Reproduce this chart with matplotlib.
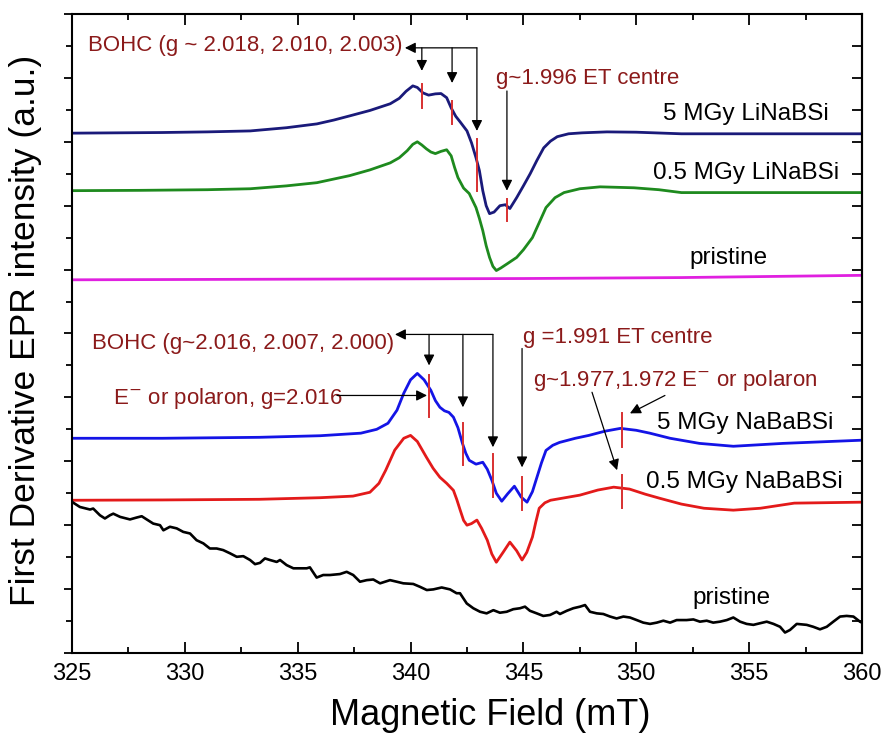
import numpy as np
import matplotlib
matplotlib.use("Agg")
import matplotlib.pyplot as plt
from matplotlib.ticker import MultipleLocator, NullFormatter

plt.rcParams['font.family'] = ['Liberation Sans', 'DejaVu Sans']

# --- data (field in mT, intensity in a.u. incl. offsets) ---
x_li5 = [325.0, 327.0, 329.0, 331.0, 332.9, 334.5, 335.85, 336.6, 337.3, 338.2, 339.1, 339.5,
         339.8, 340.1, 340.3, 340.55, 340.8, 341.1, 341.35, 341.6, 341.8, 342.0, 342.2, 342.5,
         342.7, 342.9, 343.05, 343.2, 343.35, 343.5, 343.7, 343.96, 344.2, 344.4, 344.7, 345.0,
         345.3, 345.6, 345.9, 346.2, 346.5, 347.0, 347.6, 348.7, 350.0, 352.0, 356.0, 360.0]
y_li5 = [16.27, 16.28, 16.29, 16.31, 16.34, 16.44, 16.56, 16.68, 16.81, 16.98, 17.19, 17.36,
         17.58, 17.75, 17.70, 17.53, 17.46, 17.50, 17.51, 17.38, 17.06, 16.80, 16.62, 16.34,
         15.97, 15.50, 15.10, 14.47, 14.00, 13.75, 13.80, 14.00, 14.03, 13.91, 14.25, 14.62,
         15.00, 15.42, 15.81, 16.02, 16.16, 16.25, 16.28, 16.31, 16.30, 16.25, 16.25, 16.25]

x_li05 = [325.0, 328.0, 331.0, 332.9, 334.5, 335.85, 337.3, 338.2, 339.1, 339.5, 339.85, 340.1,
          340.3, 340.5, 340.7, 340.9, 341.1, 341.35, 341.6, 341.8, 341.95, 342.1, 342.35, 342.6,
          342.9, 343.05, 343.2, 343.35, 343.5, 343.65, 343.8, 344.0, 344.3, 344.7, 345.0, 345.4,
          345.7, 346.0, 346.4, 346.8, 347.5, 348.4, 349.9, 351.0, 352.0, 356.0, 360.0]
y_li05 = [14.47, 14.48, 14.50, 14.53, 14.62, 14.72, 14.94, 15.12, 15.34, 15.50, 15.72, 15.92,
          16.00, 15.90, 15.78, 15.68, 15.63, 15.70, 15.75, 15.56, 15.20, 14.88, 14.55, 14.38,
          13.94, 13.60, 13.22, 12.75, 12.38, 12.10, 11.97, 12.05, 12.19, 12.38, 12.62, 13.00,
          13.47, 13.94, 14.25, 14.41, 14.53, 14.59, 14.56, 14.50, 14.41, 14.41, 14.41]

x_li0 = [325.0, 335.0, 345.0, 352.0, 360.0]
y_li0 = [11.68, 11.70, 11.72, 11.75, 11.82]

x_na5 = [325.0, 329.0, 333.3, 336.0, 337.8, 338.5, 339.0, 339.4, 339.7, 340.0, 340.3, 340.6,
         340.9, 341.1, 341.3, 341.5, 341.7, 341.9, 342.1, 342.3, 342.45, 342.6, 342.9, 343.2,
         343.4, 343.6, 343.8, 344.04, 344.3, 344.6, 344.9, 345.16, 345.4, 345.6, 345.8, 346.0,
         346.3, 346.6, 347.3, 347.9, 348.6, 349.3, 350.0, 350.6, 351.5, 352.8, 354.3, 356.5, 360.0]
y_na5 = [6.72, 6.72, 6.75, 6.80, 6.88, 7.00, 7.19, 7.60, 8.13, 8.55, 8.75, 8.55,
         8.22, 7.90, 7.69, 7.58, 7.53, 7.38, 7.05, 6.56, 6.25, 6.03, 5.91, 5.97,
         5.75, 5.41, 5.00, 4.75, 4.98, 5.22, 4.88, 4.72, 5.05, 5.50, 5.95, 6.34,
         6.50, 6.59, 6.72, 6.81, 6.94, 7.03, 6.97, 6.88, 6.72, 6.56, 6.47, 6.56, 6.66]

x_na05 = [325.0, 329.0, 333.3, 336.0, 337.45, 338.2, 338.6, 338.9, 339.3, 339.7, 340.0, 340.3,
          340.7, 341.0, 341.3, 341.6, 341.9, 342.05, 342.2, 342.35, 342.5, 342.7, 342.94, 343.15,
          343.4, 343.6, 343.8, 344.1, 344.4, 344.7, 344.94, 345.15, 345.4, 345.55, 345.7, 345.95,
          346.2, 347.5, 348.3, 349.0, 349.7, 350.4, 351.05, 352.0, 353.0, 354.3, 355.5, 357.0, 360.0]
y_na05 = [4.78, 4.79, 4.81, 4.86, 4.91, 5.03, 5.31, 5.72, 6.35, 6.72, 6.81, 6.62,
          6.13, 5.78, 5.50, 5.31, 5.09, 4.80, 4.47, 4.15, 4.00, 4.05, 4.16, 3.90,
          3.53, 3.10, 2.84, 3.15, 3.47, 3.20, 2.91, 3.15, 3.63, 4.10, 4.53, 4.70,
          4.78, 4.94, 5.10, 5.19, 5.13, 4.97, 4.84, 4.66, 4.53, 4.47, 4.53, 4.69, 4.72]

x_na0 = [325.0, 325.35, 325.8, 325.94, 326.24, 326.46, 326.68, 326.83, 327.13, 327.57, 327.87,
         328.09, 328.31, 328.6, 328.9, 329.05, 329.34, 329.64, 329.93, 330.23, 330.52, 330.82,
         331.11, 331.41, 331.7, 332.0, 332.3, 332.59, 332.89, 333.11, 333.33, 333.55, 333.77,
         334.07, 334.22, 334.51, 334.81, 335.4, 335.54, 335.84, 336.13, 336.43, 336.87, 337.17,
         337.46, 337.76, 338.06, 338.35, 338.65, 339.09, 339.39, 339.68, 340.12, 340.42, 340.72,
         341.01, 341.38, 341.75, 342.04, 342.19, 342.49, 342.78, 343.08, 343.37, 343.67, 343.96,
         344.26, 344.55, 344.85, 345.07, 345.29, 345.59, 345.88, 346.18, 346.47, 346.62, 346.92,
         347.21, 347.51, 347.73, 347.95, 348.25, 348.54, 348.84, 349.13, 349.43, 349.72, 350.02,
         350.31, 350.61, 350.91, 351.2, 351.5, 351.79, 352.23, 352.53, 352.82, 353.12, 353.41,
         353.71, 354.01, 354.3, 354.6, 354.89, 355.19, 355.48, 355.78, 356.08, 356.37, 356.59,
         356.81, 357.11, 357.55, 357.84, 358.14, 358.44, 358.73, 359.03, 359.32, 359.62, 359.91,
         360.0]
y_na0 = [4.73, 4.57, 4.49, 4.52, 4.31, 4.21, 4.31, 4.36, 4.26, 4.18, 4.24,
         4.28, 4.18, 4.05, 4.00, 3.84, 3.95, 3.90, 3.79, 3.74, 3.53, 3.43,
         3.27, 3.27, 3.22, 3.12, 3.01, 3.03, 2.91, 2.78, 2.82, 2.96, 2.91,
         2.85, 2.91, 2.75, 2.65, 2.65, 2.68, 2.36, 2.44, 2.44, 2.47, 2.54,
         2.44, 2.23, 2.28, 2.30, 2.18, 2.28, 2.23, 2.18, 2.16, 2.07, 1.97,
         1.99, 2.05, 1.99, 1.87, 1.87, 1.55, 1.40, 1.29, 1.24, 1.34, 1.26,
         1.29, 1.37, 1.40, 1.45, 1.32, 1.24, 1.16, 1.19, 1.29, 1.22, 1.32,
         1.40, 1.45, 1.50, 1.29, 1.24, 1.22, 1.14, 1.08, 1.14, 1.11, 1.03,
         0.95, 0.91, 0.95, 1.01, 0.95, 1.03, 1.03, 1.05, 0.98, 1.01, 0.95,
         0.98, 1.03, 1.11, 0.98, 0.91, 0.88, 0.93, 0.98, 0.91, 0.82, 0.64,
         0.72, 0.91, 0.88, 0.82, 0.74, 0.82, 0.98, 1.14, 1.16, 1.14, 0.98,
         0.95]

# red marker lines: field, lower and upper end
marks_x = [340.5, 341.84, 342.94, 344.27, 340.82, 342.32, 343.65, 344.94, 349.37, 349.37]
marks_lo = [17.06, 16.56, 14.47, 13.53, 7.38, 5.88, 4.88, 4.47, 6.44, 4.53]
marks_hi = [17.81, 17.28, 16.09, 14.22, 8.69, 7.19, 6.22, 5.50, 7.50, 5.56]

txt_red = '#8b1a1a'
fig = plt.figure(figsize=(8.82, 7.4), dpi=100)
ax = fig.add_axes([0.0816, 0.1176, 0.8957, 0.8635])

ax.plot(x_li5, y_li5, color='#1a1a7a', lw=2)
ax.plot(x_li05, y_li05, color='#1e8a1e', lw=2)
ax.plot(x_li0, y_li0, color='#e020e0', lw=2)
ax.plot(x_na5, y_na5, color='#1414e6', lw=2)
ax.plot(x_na05, y_na05, color='#e31a1a', lw=2)
ax.plot(x_na0, y_na0, color='black', lw=1.9)

for mx, lo, hi in zip(marks_x, marks_lo, marks_hi):
    ax.plot([mx, mx], [lo, hi], color='#d83030', lw=1.4)

arr = dict(arrowstyle='-|>', color='black', lw=0.9, mutation_scale=16, shrinkA=0, shrinkB=0)

# upper BOHC bracket
ax.annotate('', xy=(339.75, 18.94), xytext=(342.94, 18.94), arrowprops=arr)
for vx, tip in zip([340.5, 341.84, 342.94], [18.22, 17.84, 16.34]):
    ax.annotate('', xy=(vx, tip), xytext=(vx, 18.94), arrowprops=arr)
ax.text(325.7, 19.0, 'BOHC (g ~ 2.018, 2.010, 2.003)', color=txt_red, fontsize=16, va='center')
ax.annotate('', xy=(344.27, 14.47), xytext=(344.27, 17.59), arrowprops=arr)
ax.text(343.8, 17.97, 'g~1.996 ET centre', color=txt_red, fontsize=16, va='center')

# lower BOHC bracket
ax.annotate('', xy=(339.31, 9.97), xytext=(343.65, 9.97), arrowprops=arr)
for vx, tip in zip([340.82, 342.32, 343.65], [9.0, 7.69, 6.44]):
    ax.annotate('', xy=(vx, tip), xytext=(vx, 9.97), arrowprops=arr)
ax.text(325.9, 9.69, 'BOHC (g~2.016, 2.007, 2.000)', color=txt_red, fontsize=16, va='center')
ax.annotate('', xy=(344.94, 5.81), xytext=(344.94, 9.53), arrowprops=arr)
ax.text(344.98, 9.875, 'g =1.991 ET centre', color=txt_red, fontsize=16, va='center')
ax.text(345.42, 8.53, 'g~1.977,1.972 E$^{-}$ or polaron', color=txt_red, fontsize=16, va='center')
ax.annotate('', xy=(349.72, 7.5), xytext=(351.27, 8.06), arrowprops=arr)
ax.annotate('', xy=(349.15, 5.72), xytext=(348.04, 8.16), arrowprops=arr)
ax.text(326.8, 7.97, 'E$^{-}$ or polaron, g=2.016', color=txt_red, fontsize=16, va='center')
ax.annotate('', xy=(340.73, 8.06), xytext=(336.74, 8.06), arrowprops=arr)

# sample labels
ax.text(351.18, 16.875, '5 MGy LiNaBSi', fontsize=17.5, va='center')
ax.text(350.74, 15.03, '0.5 MGy LiNaBSi', fontsize=17.5, va='center')
ax.text(352.34, 12.375, 'pristine', fontsize=17.5, va='center')
ax.text(350.92, 7.19, '5 MGy NaBaBSi', fontsize=17.5, va='center')
ax.text(350.43, 5.34, '0.5 MGy NaBaBSi', fontsize=17.5, va='center')
ax.text(352.47, 1.72, 'pristine', fontsize=17.5, va='center')

ax.set_xlim(325, 360)
ax.set_ylim(0, 20)
ax.xaxis.set_major_locator(MultipleLocator(5))
ax.xaxis.set_minor_locator(MultipleLocator(2.5))
ax.yaxis.set_major_locator(MultipleLocator(2))
ax.yaxis.set_minor_locator(MultipleLocator(1))
ax.yaxis.set_major_formatter(NullFormatter())
ax.tick_params(axis='x', which='both', direction='in', top=True, labelsize=17, pad=7, width=1.3)
ax.tick_params(axis='x', which='major', length=8)
ax.tick_params(axis='x', which='minor', length=4)
ax.tick_params(axis='y', which='both', direction='out', width=1.3)
ax.tick_params(axis='y', which='major', length=6)
ax.tick_params(axis='y', which='minor', length=4)

sec = ax.secondary_yaxis('right')
sec.yaxis.set_major_locator(MultipleLocator(1))
sec.yaxis.set_major_formatter(NullFormatter())
sec.tick_params(direction='in', length=7, width=1.3)

for sp in ax.spines.values():
    sp.set_linewidth(1.5)
sec.spines['right'].set_linewidth(1.5)

ax.set_xlabel('Magnetic Field (mT)', fontsize=26)
ax.set_ylabel('First Derivative EPR intensity (a.u.)', fontsize=25.5)
ax.xaxis.set_label_coords(0.53, -0.07)
ax.yaxis.set_label_coords(-0.038, 0.505)

fig.savefig('out.png', dpi=100)
